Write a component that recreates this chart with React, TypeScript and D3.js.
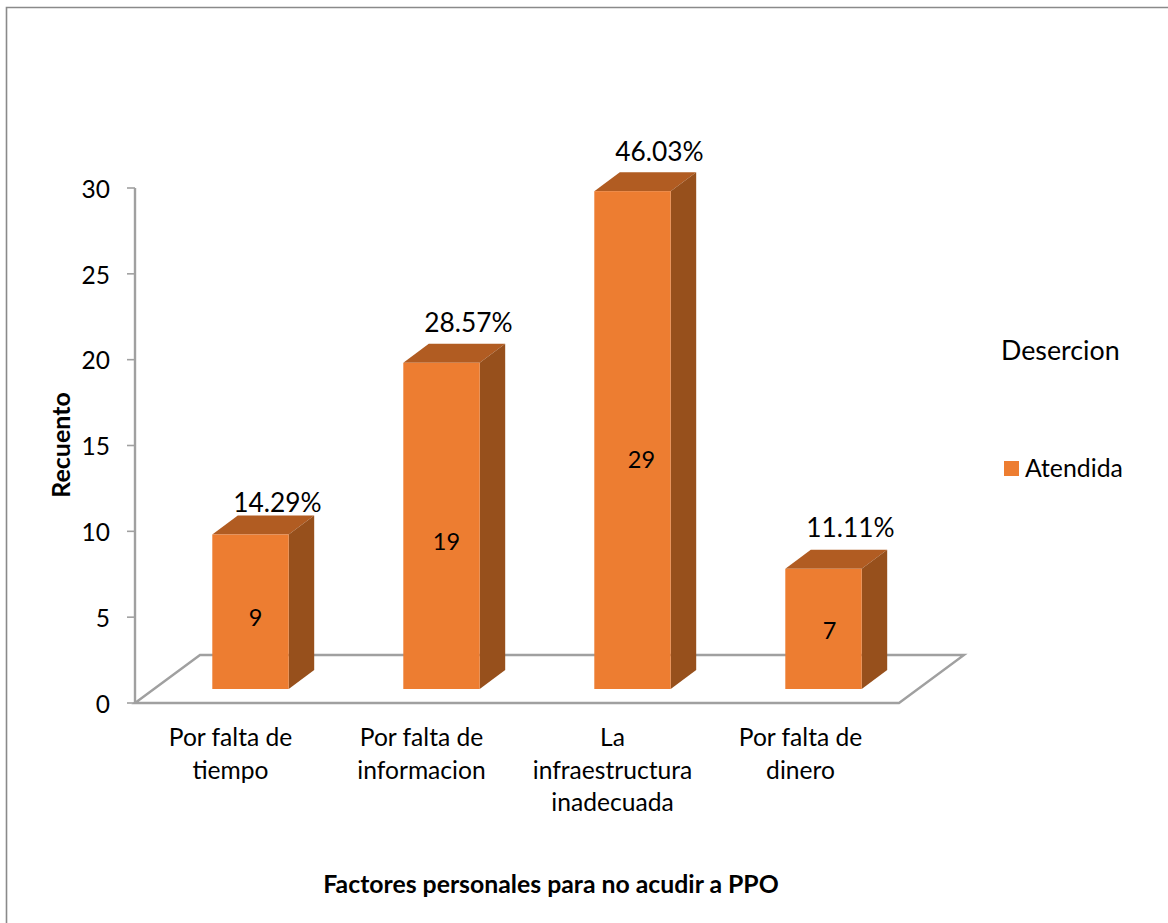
import React from "react";
import * as d3 from "d3";

const categories = ["Por falta de tiempo", "Por falta de informacion", "La infraestructura inadecuada", "Por falta de dinero"];
const categoryLines = [["Por falta de", "tiempo"], ["Por falta de", "informacion"], ["La", "infraestructura", "inadecuada"], ["Por falta de", "dinero"]];
const counts = [9, 19, 29, 7];
const percentLabels = ["14.29%", "28.57%", "46.03%", "11.11%"];
const yTicks = [0, 5, 10, 15, 20, 25, 30];
const legendLabel = "Atendida";
const legendTitle = "Desercion";
const yTitle = "Recuento";
const xTitle = "Factores personales para no acudir a PPO";

const WIDTH = 1168;
const HEIGHT = 923;
const FONT = "Lato, 'Open Sans', sans-serif";
const AXIS_GREY = "#a0a0a0";
const FRONT = "#ed7d31";
const TOP = "#b15c22";
const SIDE = "#97501c";

// Oblique projection: the floor runs back by (65, -48), the bars by (25.5, -19).
const FLOOR_DX = 65;
const FLOOR_DY = -48;
const BAR_DX = 25.5;
const BAR_DY = -19;
const BAR_FLOOR_OFFSET = -14;
const BAR_SHIFT = 20;

// Hand placement of the count labels relative to the middle of each bar's front face.
const countLabelNudgeX = [5, 5, 9, 6];
const countLabelNudgeY = [6, 16, 19, 2];
// Gap between the back edge of each bar's top and its percentage label.
const percentLabelLift = [13, 21, 21, 22];
// Horizontal correction of the category labels.
const categoryLabelNudgeX = [0, 0, 0, -3];

const y = d3.scaleLinear().domain([0, 30]).range([703, 188]);
const x = d3.scaleBand<string>().domain(categories).range([135, 899]).padding(0);
const barWidth = x.bandwidth() * 0.4;

const poly = (pts: [number, number][]) => d3.line()(pts) + "Z";

export default function App() {
  const floorLeft = x.range()[0];
  const floorRight = x.range()[1];
  const floorBase = y(0);

  return (
    <svg
      width={WIDTH}
      height={HEIGHT}
      viewBox={`0 0 ${WIDTH} ${HEIGHT}`}
      style={{ position: "absolute", left: 0, top: 0, background: "#fff", fontFamily: FONT }}
    >
      {/* chart frame */}
      <path d={`M6.5,${HEIGHT}V7.5H${WIDTH}`} fill="none" stroke="#8a8a8a" strokeWidth={1.6} />

      {/* floor plane */}
      <path
        d={poly([
          [floorLeft, floorBase],
          [floorLeft + FLOOR_DX, floorBase + FLOOR_DY],
          [floorRight + FLOOR_DX, floorBase + FLOOR_DY],
          [floorRight, floorBase],
        ])}
        fill="none"
        stroke={AXIS_GREY}
        strokeWidth={2.4}
      />

      {/* value axis */}
      <line x1={floorLeft} x2={floorLeft} y1={y(30)} y2={y(0)} stroke={AXIS_GREY} strokeWidth={2.4} />
      {yTicks.map((t) => (
        <g key={t}>
          <line x1={floorLeft - 8} x2={floorLeft} y1={y(t)} y2={y(t)} stroke={AXIS_GREY} strokeWidth={1.6} />
          <text x={110} y={y(t) + 1} dy="0.36em" textAnchor="end" fontSize={24.5} fill="#000">
            {t}
          </text>
        </g>
      ))}

      {/* bars */}
      {categories.map((c, i) => {
        const cx = x(c)! + x.bandwidth() / 2 + BAR_SHIFT;
        const x0 = cx - barWidth / 2;
        const x1 = cx + barWidth / 2;
        const base = y(0) + BAR_FLOOR_OFFSET;
        const top = base - (y(0) - y(counts[i]));
        return (
          <g key={c}>
            <path
              d={poly([[x0, top], [x0 + BAR_DX, top + BAR_DY], [x1 + BAR_DX, top + BAR_DY], [x1, top]])}
              fill={TOP}
            />
            <path
              d={poly([[x1, top], [x1 + BAR_DX, top + BAR_DY], [x1 + BAR_DX, base + BAR_DY], [x1, base]])}
              fill={SIDE}
            />
            <rect x={x0} y={top} width={barWidth} height={base - top} fill={FRONT} />
            <text
              x={cx + countLabelNudgeX[i]}
              y={(top + base) / 2 + countLabelNudgeY[i]}
              dy="0.36em"
              textAnchor="middle"
              fontSize={23.5}
              fill="#000"
            >
              {counts[i]}
            </text>
            <text
              x={cx + 27}
              y={top + BAR_DY - percentLabelLift[i]}
              dy="0.36em"
              textAnchor="middle"
              fontSize={26.3}
              fill="#000"
            >
              {percentLabels[i]}
            </text>
          </g>
        );
      })}

      {/* category labels */}
      {categories.map((c, i) => (
        <text key={c} textAnchor="middle" fontSize={24.6} fill="#000">
          {categoryLines[i].map((line, j) => (
            <tspan key={j} x={x(c)! + x.bandwidth() / 2 + categoryLabelNudgeX[i]} y={746 + j * 32.5}>
              {line}
            </tspan>
          ))}
        </text>
      ))}

      {/* axis titles */}
      <text
        transform="translate(61,445) rotate(-90)"
        dy="0.36em"
        textAnchor="middle"
        fontSize={25}
        fontWeight={700}
        fill="#000"
      >
        {yTitle}
      </text>
      <text x={551} y={884} dy="0.36em" textAnchor="middle" fontSize={24.8} fontWeight={700} fill="#000">
        {xTitle}
      </text>

      {/* legend */}
      <text x={1001} y={350} dy="0.36em" fontSize={26.8} fill="#000">
        {legendTitle}
      </text>
      <rect x={1004} y={461} width={15} height={15} fill={FRONT} />
      <text x={1025} y={468} dy="0.36em" fontSize={24.8} fill="#000">
        {legendLabel}
      </text>
    </svg>
  );
}
